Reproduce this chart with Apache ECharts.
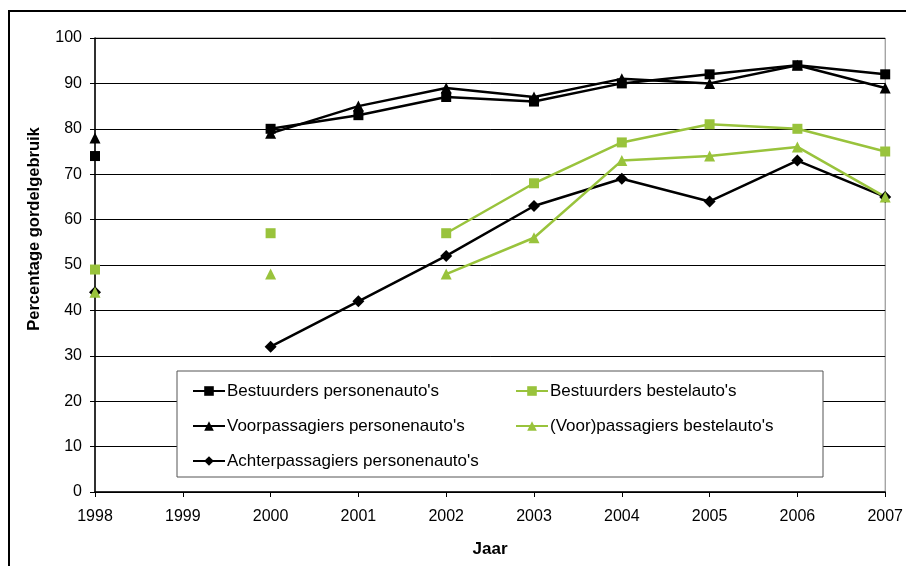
<!DOCTYPE html>
<html><head><meta charset="utf-8">
<script src="https://cdn.jsdelivr.net/npm/echarts@6/dist/echarts.min.js"></script>
<style>html,body{margin:0;padding:0;background:#fff}#c{width:906px;height:566px}</style>
</head><body><div id="c"></div>
<script>
const years = ['1998','1999','2000','2001','2002','2003','2004','2005','2006','2007'];
const bestuurdersPersonen = [74, null, 80, 83, 87, 86, 90, 92, 94, 92];
const voorpassagiersPersonen = [78, null, 79, 85, 89, 87, 91, 90, 94, 89];
const achterpassagiersPersonen = [44, null, 32, 42, 52, 63, 69, 64, 73, 65];
const bestuurdersBestel = [49, null, 57, null, 57, 68, 77, 81, 80, 75];
const passagiersBestel = [44, null, 48, null, 48, 56, 73, 74, 76, 65];
const names = ["Bestuurders personenauto's","Voorpassagiers personenauto's","Achterpassagiers personenauto's","Bestuurders bestelauto's","(Voor)passagiers bestelauto's"];
const yTicks = [0,10,20,30,40,50,60,70,80,90,100];

const BLACK = '#000000', GREEN = '#99C33C';
const font = 'Arial, "Liberation Sans", sans-serif';
function ser(name, data, color, symbol, size) {
  return { name, type: 'line', data, color, symbol, symbolSize: size, connectNulls: false,
    lineStyle: { color, width: 2.5 }, itemStyle: { color }, z: 3 };
}
const legendText = { fontFamily: font, fontSize: 17, color: '#000', padding: [0,0,0,-3] };
const chart = echarts.init(document.getElementById('c'), null, { renderer: 'canvas' });
chart.setOption({
  animation: false,
  backgroundColor: '#fff',
  grid: { left: 95, right: 19, top: 38, bottom: 74, show: true, borderColor: '#808080', borderWidth: 1 },
  graphic: [
    { type: 'rect', shape: { x: 9, y: 11, width: 920, height: 570 }, style: { fill: 'none', stroke: '#000', lineWidth: 2 }, z: 100 },
    { type: 'rect', shape: { x: 177, y: 371, width: 646, height: 106 }, style: { fill: '#fff', stroke: '#555', lineWidth: 1 }, z: 50 },
    { type: 'text', x: 34, y: 229, rotation: Math.PI / 2, z: 60,
      style: { text: 'Percentage gordelgebruik', fontFamily: font, fontSize: 16.5, fontWeight: 'bold', fill: '#000', textAlign: 'center', textVerticalAlign: 'middle' } }
  ],
  legend: [
    { data: names.slice(0,3), orient: 'vertical', left: 187, top: 377.5, itemGap: 18, itemWidth: 32, itemHeight: 12, z: 60, textStyle: legendText },
    { data: names.slice(3), orient: 'vertical', left: 510, top: 377.5, itemGap: 18, itemWidth: 32, itemHeight: 12, z: 60, textStyle: legendText }
  ],
  xAxis: {
    type: 'category', data: years, boundaryGap: false,
    name: 'Jaar', nameLocation: 'middle', nameGap: 49,
    nameTextStyle: { fontFamily: font, fontSize: 17, fontWeight: 'bold', color: '#000' },
    axisLine: { lineStyle: { color: '#000', width: 1.5 } },
    axisTick: { show: true, length: 5, alignWithLabel: true, lineStyle: { color: '#000' } },
    axisLabel: { fontFamily: font, fontSize: 16, color: '#000', margin: 17, showMaxLabel: true, showMinLabel: true, interval: 0 },
    splitLine: { show: false }
  },
  yAxis: {
    type: 'value', min: 0, max: 100, interval: 10,
    axisLine: { show: true, lineStyle: { color: '#000', width: 1.5 } },
    axisTick: { show: true, length: 5, lineStyle: { color: '#000' } },
    axisLabel: { fontFamily: font, fontSize: 16, color: '#000', margin: 13,
      formatter: v => yTicks.includes(v) ? String(v) : '' },
    splitLine: { show: true, lineStyle: { color: '#000', width: 1 } }
  },
  series: [
    ser(names[0], bestuurdersPersonen, BLACK, 'rect', 10),
    ser(names[1], voorpassagiersPersonen, BLACK, 'triangle', 11),
    ser(names[2], achterpassagiersPersonen, BLACK, 'diamond', 12),
    ser(names[3], bestuurdersBestel, GREEN, 'rect', 10),
    ser(names[4], passagiersBestel, GREEN, 'triangle', 11)
  ]
});
</script></body></html>
